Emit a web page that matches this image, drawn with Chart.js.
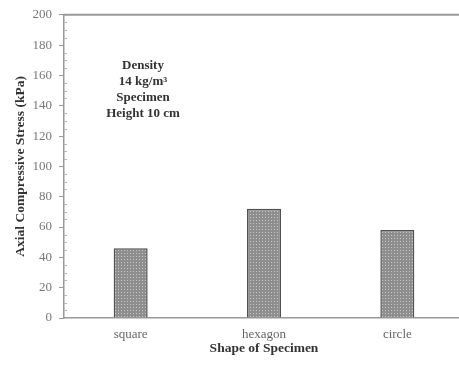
<!DOCTYPE html>
<html>
<head>
<meta charset="utf-8">
<script src="https://cdn.jsdelivr.net/npm/chart.js@4"></script>
<style>
  html, body { margin: 0; padding: 0; background: #fff; overflow: hidden; }
  #wrap { width: 466px; height: 372px; }
</style>
</head>
<body>
<div id="wrap"><canvas id="Main_Chart" width="466" height="372"></canvas></div>
<script>
const Shape_Labels = ["square", "hexagon", "circle"];
const Stress_Values = [46, 72, 58];
const Note_Lines = ["Density", "14 kg/m\u00b3", "Specimen", "Height 10 cm"];

const Serif = "'Liberation Serif', 'DejaVu Serif', serif";
const Axis_Grey = "#9a9a9a";

function Make_Dot_Pattern() {
    const Tile = document.createElement("canvas");
    Tile.width = 3;
    Tile.height = 3;
    const Tctx = Tile.getContext("2d");
    Tctx.fillStyle = "#8e8e8e";
    Tctx.fillRect(0, 0, 3, 3);
    Tctx.fillStyle = "#c6c6c6";
    Tctx.fillRect(1, 1, 1, 1);
    return Tctx.createPattern(Tile, "repeat");
}

// top frame line and small inside ticks on the value axis
const Frame_Plugin = {
    id: "frame_plugin",
    afterDraw(chart) {
        const Ctx = chart.ctx;
        const Area = chart.chartArea;
        const Y = chart.scales.y;
        Ctx.save();
        Ctx.strokeStyle = Axis_Grey;
        Ctx.lineWidth = 2;
        Ctx.beginPath();
        Ctx.moveTo(Area.left, Area.top);
        Ctx.lineTo(Area.right, Area.top);
        Ctx.stroke();
        Ctx.lineWidth = 1;
        Ctx.strokeStyle = "#b5b5b5";
        for (let V = 0; V <= 200; V += 5) {
            if (V % 20 === 0) continue;
            const Py = Math.round(Y.getPixelForValue(V)) + 0.5;
            Ctx.beginPath();
            Ctx.moveTo(Area.left, Py);
            Ctx.lineTo(Area.left + 3, Py);
            Ctx.stroke();
        }
        Ctx.restore();
    }
};

const Note_Plugin = {
    id: "note_plugin",
    afterDraw(chart) {
        const Ctx = chart.ctx;
        const Y = chart.scales.y;
        Ctx.save();
        Ctx.fillStyle = "#333";
        Ctx.font = "bold 13px " + Serif;
        Ctx.textAlign = "center";
        Ctx.textBaseline = "middle";
        Note_Lines.forEach(function (Line, I) {
            Ctx.fillText(Line, 143, Y.getPixelForValue(166.5) + I * 16);
        });
        Ctx.restore();
    }
};

new Chart(document.getElementById("Main_Chart"), {
    type: "bar",
    data: {
        labels: Shape_Labels,
        datasets: [{
            data: Stress_Values,
            backgroundColor: Make_Dot_Pattern(),
            borderColor: "#505050",
            borderWidth: 1.5,
            barPercentage: 0.255,
            categoryPercentage: 1
        }]
    },
    options: {
        responsive: false,
        animation: false,
        layout: { padding: { top: 10, right: 2, left: 0, bottom: 0 } },
        plugins: {
            legend: { display: false },
            tooltip: { enabled: false }
        },
        scales: {
            x: {
                afterFit(scale) { scale.height = 54; },
                grid: { display: false, drawTicks: false },
                border: { display: true, color: Axis_Grey, width: 1.5 },
                ticks: {
                    padding: 9,
                    color: "#666",
                    font: { family: Serif, size: 13 }
                },
                title: {
                    display: true,
                    text: "Shape of Specimen",
                    color: "#333",
                    padding: { top: 0, bottom: 15 },
                    font: { family: Serif, size: 13.5, weight: "bold" }
                }
            },
            y: {
                min: 0,
                max: 200,
                afterFit(scale) { scale.width = 64; },
                grid: { drawOnChartArea: false, tickLength: 5, color: Axis_Grey },
                border: { display: true, color: Axis_Grey, width: 1.5 },
                ticks: {
                    stepSize: 20,
                    padding: 7,
                    color: "#777",
                    font: { family: Serif, size: 13 }
                },
                title: {
                    display: true,
                    text: "Axial Compressive Stress (kPa)",
                    color: "#333",
                    padding: { top: 12, bottom: 0 },
                    font: { family: Serif, size: 13.5, weight: "bold" }
                }
            }
        }
    },
    plugins: [Frame_Plugin, Note_Plugin]
});
</script>
</body>
</html>
